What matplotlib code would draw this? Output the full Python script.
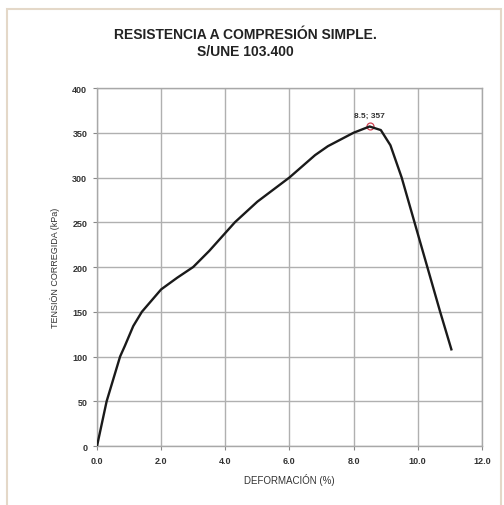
import matplotlib as mpl
import matplotlib.pyplot as plt
from matplotlib.patches import Rectangle

# data
deformacion = [0.0, 0.3, 0.72, 0.87, 1.13, 1.4, 2.0, 2.5, 3.0, 3.5, 4.0, 4.3, 5.0,
               6.0, 6.8, 7.2, 8.0, 8.5, 8.85, 9.15, 9.5, 9.9, 10.3, 10.7, 11.05]
tension = [0, 50, 100, 112, 134, 150, 175, 188, 200, 218, 238, 250, 273,
           300, 325, 335, 350, 357, 353, 336, 300, 250, 200, 150, 108]
peak_x, peak_y = 8.5, 357
x_ticks = [0.0, 2.0, 4.0, 6.0, 8.0, 10.0, 12.0]
y_ticks = [0, 50, 100, 150, 200, 250, 300, 350, 400]

mpl.rcParams["font.family"] = ["Liberation Sans", "DejaVu Sans"]

fig = plt.figure(figsize=(5.04, 5.06), dpi=100)

# outer frame of the sheet
fig.patches.append(Rectangle((0.014, -0.02), 0.98, 1.0, transform=fig.transFigure,
                             fill=False, edgecolor="#e4d8c8", linewidth=1.5))

ax = fig.add_axes([0.1925, 0.1166, 0.7635, 0.7075])
ax.plot(deformacion, tension, color="#1a1a1a", linewidth=1.7, zorder=3)
ax.plot([peak_x], [peak_y], marker="o", markersize=5, markerfacecolor="none",
        markeredgecolor="#d04050", markeredgewidth=0.9, zorder=2)
ax.annotate(f"{peak_x:.1f}; {peak_y}", (peak_x, peak_y), xytext=(0, 7),
            textcoords="offset points", ha="center", fontsize=6,
            fontweight="bold", color="#333333")

ax.set_xlim(0, 12)
ax.set_ylim(0, 400)
ax.set_xticks(x_ticks)
ax.set_xticklabels([f"{v:.1f}" for v in x_ticks])
ax.set_yticks(y_ticks)
ax.tick_params(labelsize=6.5, length=3, width=0.8, color="#888888", pad=4)
for lab in ax.get_xticklabels() + ax.get_yticklabels():
    lab.set_fontweight("bold")
    lab.set_color("#333333")
ax.grid(True, color="#b0b0b0", linewidth=1.0)
for sp in ax.spines.values():
    sp.set_color("#a8a8a8")
    sp.set_linewidth(1.0)

ax.set_xlabel("DEFORMACIÓN (%)", fontsize=7, color="#333333", labelpad=6)
ax.set_ylabel("TENSIÓN CORREGIDA (kPa)", fontsize=6.5, color="#333333", labelpad=9)

fig.text(0.487, 0.93, "RESISTENCIA A COMPRESIÓN SIMPLE.", ha="center", va="center",
         fontsize=10, fontweight="bold", color="#222222")
fig.text(0.487, 0.898, "S/UNE 103.400", ha="center", va="center",
         fontsize=10, fontweight="bold", color="#222222")

fig.savefig("out.png", dpi=100)
